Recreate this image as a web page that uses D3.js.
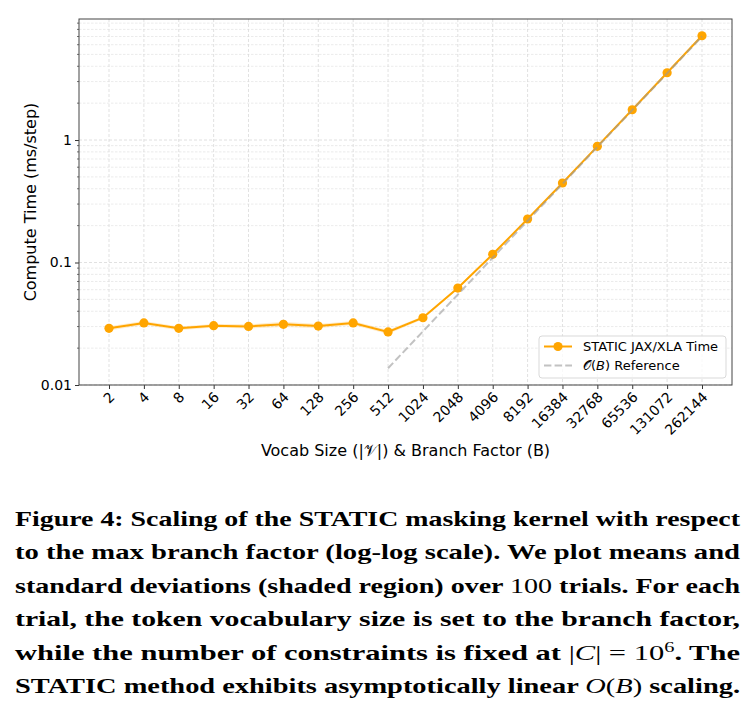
<!DOCTYPE html>
<html>
<head>
<meta charset="utf-8">
<script src="https://cdn.jsdelivr.net/npm/d3@7"></script>
<style>
  body { margin: 0; background: #fff; }
  svg { display: block; }
</style>
</head>
<body>
<script>
// data
const branch = [2, 4, 8, 16, 32, 64, 128, 256, 512, 1024, 2048, 4096, 8192, 16384, 32768, 65536, 131072, 262144];
const meanMs = [0.029, 0.0321, 0.029, 0.0305, 0.0301, 0.0313, 0.0303, 0.0321, 0.0271, 0.0354, 0.0619, 0.1167, 0.2265, 0.4457, 0.888, 1.767, 3.54, 7.10];
const stdMs = [0.0012, 0.0012, 0.001, 0.001, 0.0012, 0.0015, 0.0012, 0.0012, 0.001, 0.001, 0.0015, 0.002, 0.003, 0.005, 0.008, 0.012, 0.02, 0.04];
const refB = [512, 262144];
const refMs = [0.0137, 7.0];
const yTicks = [0.01, 0.1, 1];

const width = 756, height = 713;
const pL = 79, pR = 732, pT = 19, pB = 385;

const svg = d3.select("body").append("svg")
    .attr("width", width)
    .attr("height", height)
    .style("background", "#fff");

// scales
const x = d3.scaleLog().base(2)
    .domain([Math.pow(2, 1 - 0.86), Math.pow(2, 18 + 0.86)])
    .range([pL, pR]);
const y = d3.scaleLog()
    .domain([0.01, Math.pow(10, 0.988)])
    .range([pB, pT]);

// grid
const minor = [];
[0.01, 0.1, 1].forEach(d => { for (let k = 2; k <= 9; k++) minor.push(d * k); });
const minorIn = minor.filter(v => v <= y.domain()[1]);

const grid = svg.append("g");
grid.selectAll(".gm").data(minorIn).join("line")
    .attr("x1", pL).attr("x2", pR)
    .attr("y1", d => y(d)).attr("y2", d => y(d))
    .attr("stroke", "#e3e3e3").attr("stroke-width", 0.7).attr("stroke-dasharray", "2.5,1.5");
grid.selectAll(".gy").data(yTicks).join("line")
    .attr("x1", pL).attr("x2", pR)
    .attr("y1", d => y(d)).attr("y2", d => y(d))
    .attr("stroke", "#d9d9d9").attr("stroke-width", 0.8).attr("stroke-dasharray", "3,2");
grid.selectAll(".gx").data(branch).join("line")
    .attr("x1", d => x(d)).attr("x2", d => x(d))
    .attr("y1", pT).attr("y2", pB)
    .attr("stroke", "#d9d9d9").attr("stroke-width", 0.8).attr("stroke-dasharray", "3,2");

// std band
const band = d3.area()
    .x((d, i) => x(branch[i]))
    .y0((d, i) => y(meanMs[i] - stdMs[i]))
    .y1((d, i) => y(meanMs[i] + stdMs[i]));
svg.append("path")
    .attr("d", band(meanMs))
    .attr("fill", "#FFA500").attr("fill-opacity", 0.2);

// mean line
const line = d3.line().x((d, i) => x(branch[i])).y(d => y(d));
svg.append("path")
    .attr("d", line(meanMs))
    .attr("fill", "none").attr("stroke", "#FFA500").attr("stroke-width", 2);
svg.selectAll(".pt").data(meanMs).join("circle")
    .attr("cx", (d, i) => x(branch[i]))
    .attr("cy", d => y(d))
    .attr("r", 4.6)
    .attr("fill", "#FFA500");

// reference line
svg.append("path")
    .attr("d", d3.line().x((d, i) => x(refB[i])).y(d => y(d))(refMs))
    .attr("fill", "none").attr("stroke", "#999").attr("stroke-opacity", 0.6)
    .attr("stroke-width", 2).attr("stroke-dasharray", "7.4,3.2");

// axes
const xAxis = d3.axisBottom(x).tickValues(branch).tickFormat(d3.format("d")).tickSize(4).tickSizeOuter(0);
const gx = svg.append("g")
    .attr("transform", `translate(0,${pB})`)
    .call(xAxis);
gx.select(".domain").remove();
gx.selectAll(".tick line").attr("stroke", "#333");
gx.selectAll(".tick text")
    .attr("font-family", "DejaVu Sans")
    .attr("font-size", 14)
    .attr("fill", "#000")
    .attr("text-anchor", "end")
    .attr("y", 0).attr("dy", 0)
    .attr("transform", "translate(6,13) rotate(-45)");

const yAxis = d3.axisLeft(y).tickValues(yTicks).tickFormat(d => d3.format("")(d)).tickSize(4).tickSizeOuter(0);
const gy = svg.append("g")
    .attr("transform", `translate(${pL},0)`)
    .call(yAxis);
gy.select(".domain").remove();
gy.selectAll(".tick line").attr("stroke", "#333");
gy.selectAll(".tick text")
    .attr("font-family", "DejaVu Sans")
    .attr("font-size", 14)
    .attr("fill", "#000")
    .attr("x", -7);
svg.append("g").selectAll("line").data(minorIn).join("line")
    .attr("x1", pL - 2).attr("x2", pL)
    .attr("y1", d => y(d)).attr("y2", d => y(d))
    .attr("stroke", "#333").attr("stroke-width", 0.7);

// frame
svg.append("rect")
    .attr("x", pL).attr("y", pT)
    .attr("width", pR - pL).attr("height", pB - pT)
    .attr("fill", "none").attr("stroke", "#444").attr("stroke-width", 1);

// axis titles
svg.append("text")
    .attr("transform", `translate(36,${(pT + pB) / 2}) rotate(-90)`)
    .attr("text-anchor", "middle")
    .attr("font-family", "DejaVu Sans").attr("font-size", 16)
    .text("Compute Time (ms/step)");

svg.append("text")
    .attr("x", (pL + pR) / 2).attr("y", 456)
    .attr("text-anchor", "middle")
    .attr("font-family", "DejaVu Sans").attr("font-size", 16)
    .text("Vocab Size (|𝒱|) & Branch Factor (B)");

// legend
const lg = svg.append("g");
lg.append("rect")
    .attr("x", 539).attr("y", 336).attr("width", 187).attr("height", 42)
    .attr("rx", 3).attr("fill", "#fff").attr("fill-opacity", 0.8)
    .attr("stroke", "#d9d9d9");
lg.append("line").attr("x1", 544).attr("x2", 572).attr("y1", 346.5).attr("y2", 346.5)
    .attr("stroke", "#FFA500").attr("stroke-width", 2);
lg.append("circle").attr("cx", 558).attr("cy", 346.5).attr("r", 4.6).attr("fill", "#FFA500");
lg.append("line").attr("x1", 544).attr("x2", 572).attr("y1", 365.5).attr("y2", 365.5)
    .attr("stroke", "#999").attr("stroke-opacity", 0.6).attr("stroke-width", 2).attr("stroke-dasharray", "7.4,3.2");
lg.append("text").attr("x", 583).attr("y", 351)
    .attr("font-family", "DejaVu Sans").attr("font-size", 13)
    .text("STATIC JAX/XLA Time");
const t2 = lg.append("text").attr("x", 583).attr("y", 370)
    .attr("font-family", "DejaVu Sans").attr("font-size", 13);
t2.append("tspan").text("𝒪(");
t2.append("tspan").attr("font-style", "italic").text("B");
t2.append("tspan").text(") Reference");

// caption
const capLines = [
  [["Figure 4: Scaling of the STATIC masking kernel with respect", "b"]],
  [["to the max branch factor (log-log scale). We plot means and", "b"]],
  [["standard deviations (shaded region) over ", "b"], ["100", "m"], [" trials. For each", "b"]],
  [["trial, the token vocabulary size is set to the branch factor,", "b"]],
  [["while the number of constraints is fixed at ", "b"], ["|", "m"], ["C", "i"], ["| = 10", "m"], ["6", "sup"], [". The", "b"]],
  [["STATIC method exhibits asymptotically linear ", "b"], ["O", "i"], ["(", "m"], ["B", "i"], [")", "m"], [" scaling.", "b"]]
];
const capY = [525.5, 559, 592.5, 626, 659.5, 693];
const capX0 = 15, capX1 = 740;

capLines.forEach((segs, li) => {
  const t = svg.append("text")
      .attr("x", capX0).attr("y", capY[li])
      .attr("font-family", "'Liberation Serif', serif")
      .attr("font-size", 21)
      .attr("font-weight", "bold")
      .attr("fill", "#000");
  segs.forEach(([s, kind]) => {
    const ts = t.append("tspan").text(s);
    if (kind === "m") ts.attr("font-weight", "normal");
    if (kind === "i") ts.attr("font-weight", "normal").attr("font-style", "italic");
    if (kind === "sup") ts.attr("font-weight", "normal").attr("font-size", 14).attr("dy", -8);
    if (kind === "b" && segs.some(q => q[1] === "sup") && s.startsWith(".")) ts.attr("dy", 8);
  });
  t.attr("textLength", capX1 - capX0).attr("lengthAdjust", "spacingAndGlyphs");
});
</script>
</body>
</html>
